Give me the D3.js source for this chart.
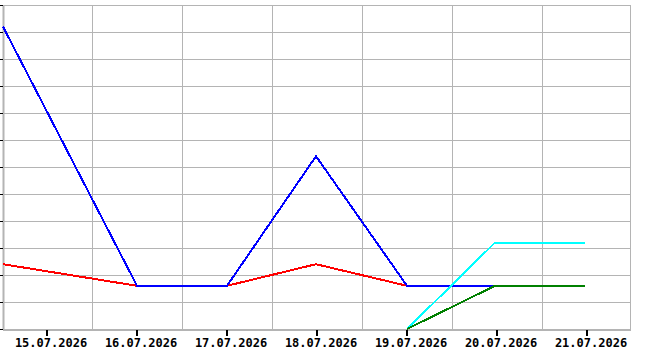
<!DOCTYPE html>
<html>
<meta charset="utf-8">
<head>
	<style>
	body { margin: 0; background: #fff; }
	svg { display: block; }
	.tick-label { font: bold 12px "DejaVu Sans Mono", monospace; fill: #000; }
	</style>
</head>
<body>
<script src="https://d3js.org/d3.v7.min.js"></script>
<script>

// data
var dates = ["2026-07-14T12:16", "2026-07-16T00:00", "2026-07-17T00:00", "2026-07-17T23:44",
             "2026-07-19T00:00", "2026-07-19T23:28", "2026-07-20T23:28"];
var xDomain = ["2026-07-14T12:16", "2026-07-21T11:28"];
var tickDates = ["2026-07-15", "2026-07-16", "2026-07-17", "2026-07-18", "2026-07-19", "2026-07-20", "2026-07-21"];
var tickLabels = ["15.07.2026", "16.07.2026", "17.07.2026", "18.07.2026", "19.07.2026", "20.07.2026", "21.07.2026"];
var gridDates = ["2026-07-15T12:00", "2026-07-16T12:00", "2026-07-17T12:00", "2026-07-18T12:00",
                 "2026-07-19T12:00", "2026-07-20T12:00"];
var yMax = 15;
var yStep = 1.25;

// series: [date index, value]
var redSeries   = [[0, 3], [1, 2], [2, 2], [3, 3], [4, 2]];
var blueSeries  = [[0, 14], [1, 2], [2, 2], [3, 8], [4, 2], [5, 2]];
var cyanSeries  = [[4, 0], [5, 4], [6, 4]];
var greenSeries = [[4, 0], [5, 2], [6, 2]];

var width = 670, height = 350;
var plotLeft = 3, plotRight = 630, plotTop = 5, plotBottom = 329;

var parse = d3.utcParse("%Y-%m-%dT%H:%M");
var parseDay = d3.utcParse("%Y-%m-%d");

var x = d3.scaleUtc()
    .domain(xDomain.map(parse))
    .range([plotLeft, plotRight]);
var y = d3.scaleLinear()
    .domain([0, yMax])
    .range([plotBottom, plotTop]);

var yTicks = d3.range(0, yMax + yStep / 2, yStep);

var svg = d3.select("body").append("svg")
    .attr("width", width)
    .attr("height", height);

// horizontal grid
svg.append("g").selectAll("line")
    .data(yTicks)
    .enter().append("line")
    .attr("x1", plotLeft).attr("x2", plotRight)
    .attr("y1", function(d) { return Math.round(y(d)) + 0.5; })
    .attr("y2", function(d) { return Math.round(y(d)) + 0.5; })
    .attr("stroke", "#b4b4b4");

// vertical grid
svg.append("g").selectAll("line")
    .data(gridDates.map(parse))
    .enter().append("line")
    .attr("x1", function(d) { return Math.round(x(d)) + 0.5; })
    .attr("x2", function(d) { return Math.round(x(d)) + 0.5; })
    .attr("y1", plotTop).attr("y2", plotBottom)
    .attr("stroke", "#b4b4b4");

// frame
svg.append("line").attr("x1", plotRight + 0.5).attr("x2", plotRight + 0.5)
    .attr("y1", plotTop).attr("y2", plotBottom).attr("stroke", "#b4b4b4");
svg.append("line").attr("x1", plotLeft + 0.5).attr("x2", plotLeft + 0.5)
    .attr("y1", plotTop).attr("y2", plotBottom + 1).attr("stroke", "#b4b4b4").attr("stroke-width", 2);
svg.append("line").attr("x1", plotLeft).attr("x2", plotRight + 1)
    .attr("y1", plotBottom + 1).attr("y2", plotBottom + 1).attr("stroke", "#b4b4b4").attr("stroke-width", 2);

// left ticks
svg.append("g").selectAll("line")
    .data(yTicks)
    .enter().append("line")
    .attr("x1", 0).attr("x2", plotLeft)
    .attr("y1", function(d) { return Math.round(y(d)) + 0.5; })
    .attr("y2", function(d) { return Math.round(y(d)) + 0.5; })
    .attr("stroke", "#000");

// bottom ticks + labels
var xt = svg.append("g").selectAll("g")
    .data(tickDates.map(parseDay))
    .enter().append("g")
    .attr("transform", function(d) { return "translate(" + Math.round(x(d)) + ",0)"; });

xt.append("rect")
    .attr("x", -1).attr("y", plotBottom + 1)
    .attr("width", 2).attr("height", 6)
    .attr("fill", "#000");

xt.append("text")
    .attr("class", "tick-label")
    .attr("x", 4)
    .attr("y", 347)
    .attr("text-anchor", "middle")
    .text(function(d, i) { return tickLabels[i]; });

// lines
var line = d3.line()
    .x(function(d) { return x(parse(dates[d[0]])); })
    .y(function(d) { return y(d[1]); });

[[redSeries, "#ff0000"], [blueSeries, "#0000ff"], [cyanSeries, "#00ffff"], [greenSeries, "#008000"]]
  .forEach(function(s) {
    svg.append("path")
      .datum(s[0])
      .attr("d", line)
      .attr("fill", "none")
      .attr("stroke", s[1])
      .attr("stroke-width", 2)
      .attr("shape-rendering", "crispEdges");
  });

</script>
</body>
</html>
